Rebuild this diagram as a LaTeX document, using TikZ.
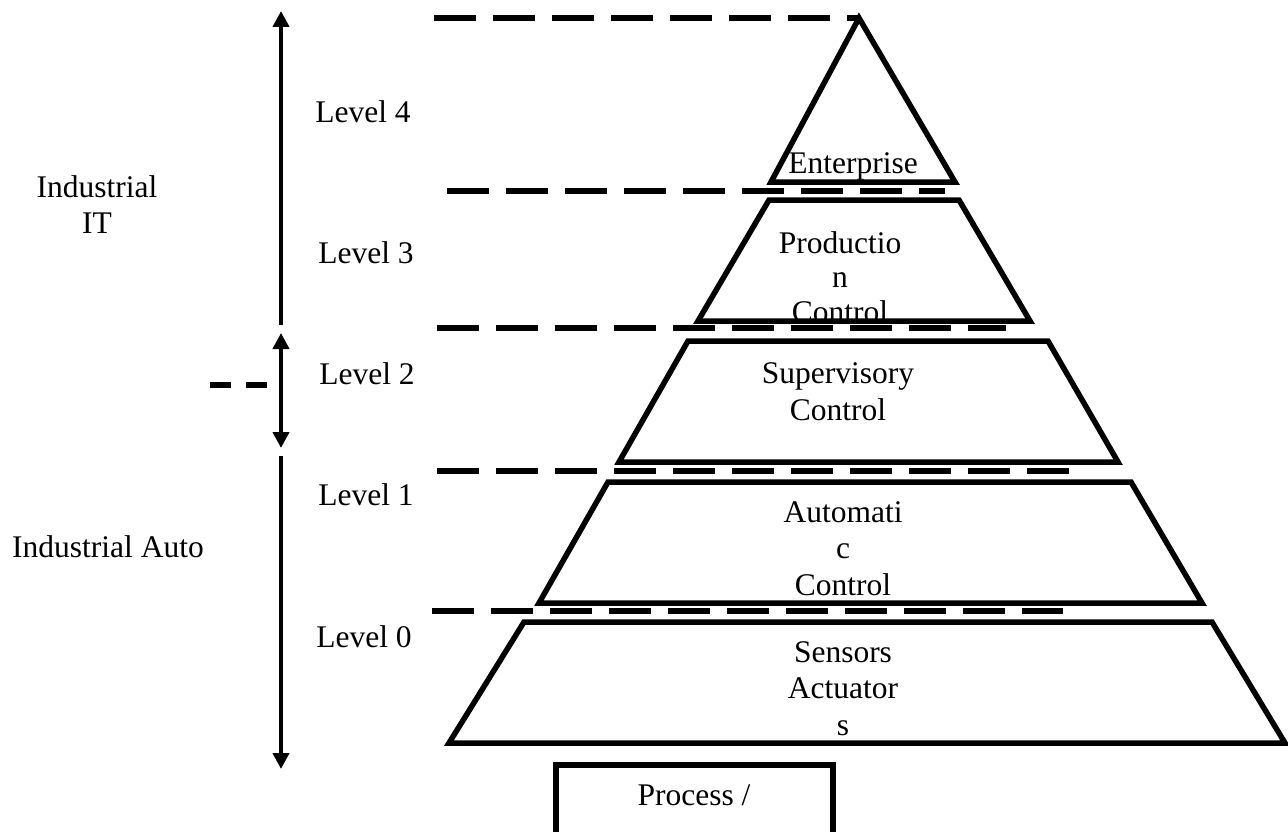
\documentclass[tikz,border=0pt]{standalone}
\usepackage{fontspec}
\setmainfont{Liberation Serif}
\usetikzlibrary{arrows.meta}
\begin{document}
\begin{tikzpicture}[x=1pt,y=-1pt,
  level/.style={line width=5.5pt,line join=miter},
  sep/.style={line width=5.5pt,dash pattern=on 42pt off 17pt},
  sepshort/.style={line width=5.5pt,dash pattern=on 21pt off 15pt},
  vline/.style={line width=4.6pt,-{Triangle[length=16pt,width=16pt]}},
  vline2/.style={line width=4.6pt,{Triangle[length=16pt,width=16pt]}-{Triangle[length=16pt,width=16pt]}},
  lbl/.style={font=\fontsize{31.5}{36}\selectfont,inner sep=0pt,anchor=base}
]
\useasboundingbox (0,0) rectangle (1288,832);
% dashed separators
\coordinate (d4a) at (434,18);  \coordinate (d4b) at (859,18);
\coordinate (d3a) at (447,191); \coordinate (d3b) at (945,191);
\coordinate (d2a) at (437,328); \coordinate (d2b) at (1006,328);
\coordinate (d1a) at (437,471); \coordinate (d1b) at (1069,471);
\coordinate (d0a) at (432,611); \coordinate (d0b) at (1063,611);
\coordinate (dsa) at (210,385); \coordinate (dsb) at (269,385);
\draw[sep] (d4a) -- (d4b);
\draw[sep] (d3a) -- (d3b);
\draw[sep] (d2a) -- (d2b);
\draw[sep] (d1a) -- (d1b);
\draw[sep] (d0a) -- (d0b);
\draw[sepshort] (dsa) -- (dsb);
% pyramid layers
\draw[level] (859,18) -- (955,182) -- (771,182) -- cycle;
\draw[level] (769,200) -- (959,200) -- (1030,321) -- (698,321) -- cycle;
\draw[level] (688,341) -- (1048,341) -- (1118,462) -- (619,462) -- cycle;
\draw[level] (608,482) -- (1131,482) -- (1202,603) -- (539,603) -- cycle;
\draw[level] (524,622) -- (1212,622) -- (1285,743) -- (449,743) -- cycle;
% process box
\draw[level] (833,845) -- (833,765) -- (556,765) -- (556,845);
% vertical arrows
\coordinate (a1s) at (281,325); \coordinate (a1e) at (281,11);
\coordinate (a2s) at (281,333); \coordinate (a2e) at (281,448);
\coordinate (a3s) at (281,456); \coordinate (a3e) at (281,769);
\draw[vline] (a1s) -- (a1e);
\draw[vline2] (a2s) -- (a2e);
\draw[vline] (a3s) -- (a3e);
% level labels
\node[lbl] (l4) at (363,123) {Level 4};
\node[lbl] (l3) at (366,263) {Level 3};
\node[lbl] (l2) at (367,384) {Level 2};
\node[lbl] (l1) at (366,505) {Level 1};
\node[lbl] (l0) at (364,647) {Level 0};
\node[lbl] (it1) at (97,197) {Industrial};
\node[lbl] (it2) at (97,233) {IT};
\node[lbl] (ia) at (108,557) {Industrial Auto};
% layer texts
\node[lbl] (ent) at (853,174) {Enterprise};
\node[lbl] (pc1) at (840,253) {Productio};
\node[lbl] (pc2) at (840,287) {n};
\node[lbl] (pc3) at (840,322) {Control};
\node[lbl] (sc1) at (838,383) {Supervisory};
\node[lbl] (sc2) at (838,420) {Control};
\node[lbl] (ac1) at (843,522) {Automati};
\node[lbl] (ac2) at (843,558) {c};
\node[lbl] (ac3) at (843,595) {Control};
\node[lbl] (sa1) at (843,662) {Sensors};
\node[lbl] (sa2) at (843,698) {Actuator};
\node[lbl] (sa3) at (843,735) {s};
\node[lbl] (proc) at (694,805) {Process /};
\end{tikzpicture}
\end{document}
